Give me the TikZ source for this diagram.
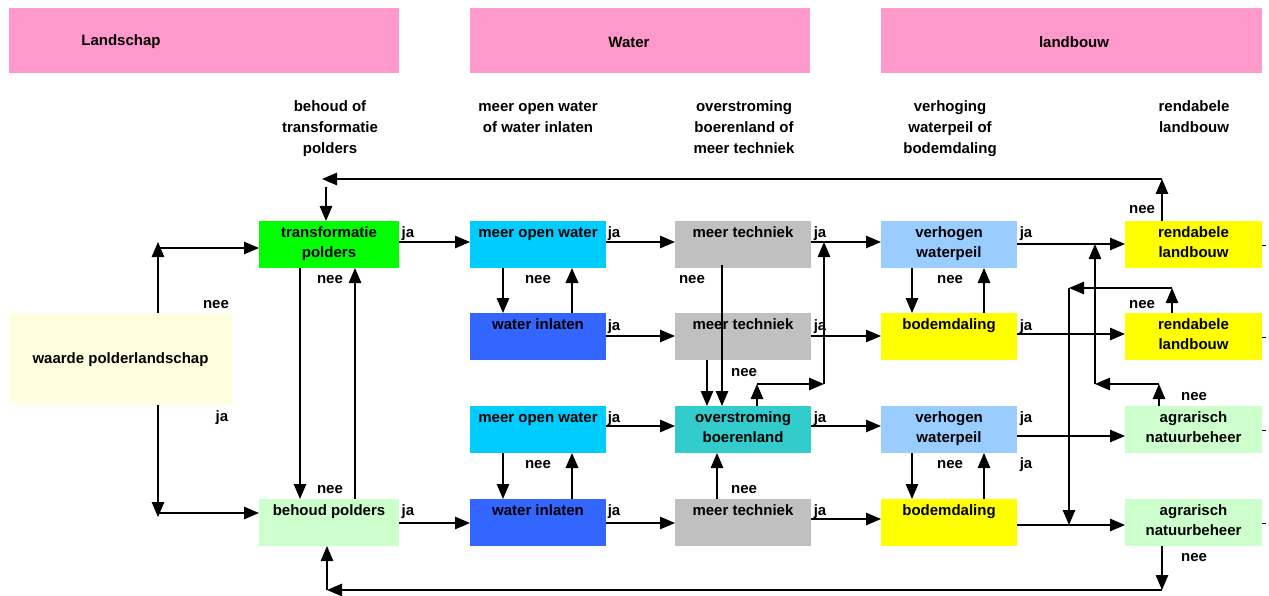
\documentclass[tikz,border=0pt]{standalone}
\usepackage{fontspec}
\setmainfont{Liberation Sans}
\usetikzlibrary{arrows.meta}
\definecolor{cpink}{HTML}{FF99CC}
\definecolor{cgreen}{HTML}{00FF00}
\definecolor{cpale}{HTML}{FFFFE0}
\definecolor{cmint}{HTML}{CCFFCC}
\definecolor{ccyan}{HTML}{00CCFF}
\definecolor{cblue}{HTML}{3366FF}
\definecolor{cgray}{HTML}{C0C0C0}
\definecolor{cteal}{HTML}{33CCCC}
\definecolor{csky}{HTML}{99CCFF}
\definecolor{cyel}{HTML}{FFFF00}
\begin{document}
\begin{tikzpicture}[x=1pt,y=-1pt,
 box/.style={anchor=north west,minimum width=136pt,minimum height=47pt,inner sep=0pt,outer sep=0pt},
 txt/.style={font=\bfseries\fontsize{15}{20}\selectfont,align=center,inner sep=0pt,anchor=north},
 hdr/.style={font=\bfseries\fontsize{15}{21}\selectfont,align=center,inner sep=0pt,anchor=north},
 lab/.style={font=\bfseries\fontsize{15}{18}\selectfont,inner sep=0pt,anchor=base},
 con/.style={line width=1.2pt},
 arr/.style={con,-{Triangle[length=15pt,width=12.5pt]}},
 arrb/.style={line width=2pt,-{Triangle[length=15pt,width=12.5pt]}},
 stub/.style={line width=0.6pt}
]
\useasboundingbox (0,0) rectangle (1269,596);

% header bands
\node[box,minimum width=390pt,minimum height=65pt,fill=cpink] (hL) at (9,8) {};
\node[box,minimum width=340pt,minimum height=65pt,fill=cpink] (hW) at (470,8) {};
\node[box,minimum width=381pt,minimum height=65pt,fill=cpink] (hB) at (881,8) {};
\node[txt,anchor=center] (hL-t) at (121,42) {Landschap};
\node[txt,anchor=center] (hW-t) at (629,42) {Water};
\node[txt,anchor=center] (hB-t) at (1074,42) {landbouw};

% column headers
\node[hdr] (c1) at (330,97) {\strut behoud of\\transformatie\\polders};
\node[hdr] (c2) at (538,97) {\strut meer open water\\of water inlaten};
\node[hdr] (c3) at (744,97) {\strut overstroming\\boerenland of\\meer techniek};
\node[hdr] (c4) at (950,97) {\strut verhoging\\waterpeil of\\bodemdaling};
\node[hdr] (c5) at (1194,97) {\strut rendabele\\landbouw};

% boxes
\node[box,minimum width=223pt,minimum height=92pt,fill=cpale] (wp) at (9,313) {};
\node[box,minimum width=140pt,fill=cgreen] (tp) at (259,221) {};
\node[box,minimum width=140pt,fill=cmint] (bp) at (259,499) {};
\node[box,fill=ccyan] (mow1) at (470,221) {};
\node[box,fill=cblue] (wi1) at (470,313) {};
\node[box,fill=ccyan] (mow2) at (470,406) {};
\node[box,fill=cblue] (wi2) at (470,499) {};
\node[box,fill=cgray] (mt1) at (675,221) {};
\node[box,fill=cgray] (mt2) at (675,313) {};
\node[box,fill=cteal] (ov) at (675,406) {};
\node[box,fill=cgray] (mt3) at (675,499) {};
\node[box,fill=csky] (vw1) at (881,221) {};
\node[box,fill=cyel] (bd1) at (881,313) {};
\node[box,fill=csky] (vw2) at (881,406) {};
\node[box,fill=cyel] (bd2) at (881,499) {};
\node[box,minimum width=137pt,fill=cyel] (rl1) at (1125,221) {};
\node[box,minimum width=137pt,fill=cyel] (rl2) at (1125,313) {};
\node[box,minimum width=137pt,fill=cmint] (an1) at (1125,406) {};
\node[box,minimum width=137pt,fill=cmint] (an2) at (1125,499) {};

% box texts
\node[txt,anchor=center] (wp-t) at ([yshift=-1pt]wp.center) {waarde polderlandschap};
\node[txt] (tp-t) at ([yshift=-2pt]tp.north) {\strut transformatie\\polders};
\node[txt] (bp-t) at ([yshift=-2pt]bp.north) {\strut behoud polders};
\node[txt] (mow1-t) at ([yshift=-2pt]mow1.north) {\strut meer open water};
\node[txt] (wi1-t) at ([yshift=-2pt]wi1.north) {\strut water inlaten};
\node[txt] (mow2-t) at ([yshift=-2pt]mow2.north) {\strut meer open water};
\node[txt] (wi2-t) at ([yshift=-2pt]wi2.north) {\strut water inlaten};
\node[txt] (mt1-t) at ([yshift=-2pt]mt1.north) {\strut meer techniek};
\node[txt] (mt2-t) at ([yshift=-2pt]mt2.north) {\strut meer techniek};
\node[txt] (ov-t) at ([yshift=-2pt]ov.north) {\strut overstroming\\boerenland};
\node[txt] (mt3-t) at ([yshift=-2pt]mt3.north) {\strut meer techniek};
\node[txt] (vw1-t) at ([yshift=-2pt]vw1.north) {\strut verhogen\\waterpeil};
\node[txt] (bd1-t) at ([yshift=-2pt]bd1.north) {\strut bodemdaling};
\node[txt] (vw2-t) at ([yshift=-2pt]vw2.north) {\strut verhogen\\waterpeil};
\node[txt] (bd2-t) at ([yshift=-2pt]bd2.north) {\strut bodemdaling};
\node[txt] (rl1-t) at ([yshift=-2pt]rl1.north) {\strut rendabele\\landbouw};
\node[txt] (rl2-t) at ([yshift=-2pt]rl2.north) {\strut rendabele\\landbouw};
\node[txt] (an1-t) at ([yshift=-2pt]an1.north) {\strut agrarisch\\natuurbeheer};
\node[txt] (an2-t) at ([yshift=-2pt]an2.north) {\strut agrarisch\\natuurbeheer};

% helper coordinates
\coordinate (r1) at (0,242);
\coordinate (r1b) at (0,244);
\coordinate (r2) at (0,336);
\coordinate (r2b) at (0,334);
\coordinate (r3) at (0,426);
\coordinate (r3b) at (0,436);
\coordinate (r4) at (0,523);
\coordinate (r4a) at (0,519);
\coordinate (r4b) at (0,525);

% waarde -> transformatie / behoud
\coordinate (k1) at (158,242);
\coordinate (k1h) at (158,248);
\draw[arr] (k1 |- wp.north) -- (k1);
\draw[arr] (k1h) -- (k1h -| tp.west);
\coordinate (k2) at (158,517);
\coordinate (k2h) at (158,513);
\draw[arr] (k2 |- wp.south) -- (k2);
\draw[arr] (k2h) -- (k2h -| bp.west);

% transformatie <-> behoud
\coordinate (x300) at (300,0);
\coordinate (x355) at (355,0);
\draw[arr] (x300 |- tp.south) -- (x300 |- bp.north);
\draw[arr] (x355 |- bp.north) -- (x355 |- tp.south);

% row 1
\draw[arr] (r1 -| tp.east) -- (r1 -| mow1.west);
\draw[arr] (r1 -| mow1.east) -- (r1 -| mt1.west);
\draw[arr] (r1 -| mt1.east) -- (r1 -| vw1.west);
\draw[arr] (r1b -| vw1.east) -- (r1b -| rl1.west);
% row 2
\draw[arr] (r2 -| wi1.east) -- (r2 -| mt2.west);
\draw[arr] (r2 -| mt2.east) -- (r2 -| bd1.west);
\draw[arr] (r2b -| bd1.east) -- (r2b -| rl2.west);
% row 3
\draw[arr] (r3 -| mow2.east) -- (r3 -| ov.west);
\draw[arr] (r3 -| ov.east) -- (r3 -| vw2.west);
\draw[arr] (r3b -| vw2.east) -- (r3b -| an1.west);
% row 4
\draw[arr] (r4 -| bp.east) -- (r4 -| wi2.west);
\draw[arr] (r4 -| wi2.east) -- (r4 -| mt3.west);
\draw[arr] (r4a -| mt3.east) -- (r4a -| bd2.west);
\draw[arr] (r4b -| bd2.east) -- (r4b -| an2.west);

% water column verticals
\coordinate (x503) at (503,0);
\coordinate (x572) at (572,0);
\draw[arr] (x503 |- mow1.south) -- (x503 |- wi1.north);
\draw[arrb] (x572 |- wi1.north) -- (x572 |- mow1.south);
\draw[arr] (x503 |- mow2.south) -- (x503 |- wi2.north);
\draw[arrb] (x572 |- wi2.north) -- (x572 |- mow2.south);

% verhogen <-> bodemdaling
\coordinate (x912) at (912,0);
\coordinate (x984) at (984,0);
\draw[arr] (x912 |- vw1.south) -- (x912 |- bd1.north);
\draw[arr] (x984 |- bd1.north) -- (x984 |- vw1.south);
\draw[arr] (x912 |- vw2.south) -- (x912 |- bd2.north);
\draw[arr] (x984 |- bd2.north) -- (x984 |- vw2.south);

% meer techniek -> overstroming
\coordinate (x722) at (722,0);
\coordinate (x707) at (707,0);
\coordinate (x717) at (717,0);
\draw[arr] ([yshift=3pt]x722 |- mt1.south) -- (x722 |- ov.north);
\draw[arr] (x707 |- mt2.south) -- (x707 |- ov.north);
\draw[arr] (x717 |- mt3.north) -- (x717 |- ov.south);

% overstroming nee -> back up
\coordinate (k3) at (757,384);
\coordinate (k4) at (824,384);
\draw[arr] (k3 |- ov.north) -- (k3);
\draw[arr] (k3) -- (k4);
\draw[arr] (k4) -- (k4 |- r1);

% rendabele landbouw 1 nee -> transformatie
\coordinate (k5) at (1162,179);
\coordinate (k6) at (322,179);
\coordinate (k7) at (326,187);
\draw[arr] (k5 |- rl1.north) -- (k5);
\draw[arr] (k5) -- (k6);
\draw[arr] (k7) -- (k7 |- tp.north);

% rendabele landbouw 2 nee
\coordinate (k8) at (1172,288);
\coordinate (k9) at (1069,288);
\draw[arr] (k8 |- rl2.north) -- (k8);
\draw[arr] (k8) -- (k9);
\draw[arr] (k9) -- (k9 |- r4b);

% agrarisch natuurbeheer 1 nee
\coordinate (k10) at (1159,384);
\coordinate (k11) at (1095,384);
\draw[arr] (k10 |- an1.north) -- (k10);
\draw[arr] (k10) -- (k11);
\draw[arr] (k11) -- (k11 |- r1b);

% agrarisch natuurbeheer 2 nee -> behoud
\coordinate (k12) at (1162,590);
\coordinate (k13) at (327,590);
\draw[arr] (k12 |- an2.south) -- (k12);
\draw[arr] (k12) -- (k13);
\draw[arr] (k13) -- (k13 |- bp.south);

% small stubs at right edge
\draw[stub] ([yshift=-1pt]rl1.east) -- ++(4,0);
\draw[stub] ([yshift=-1pt]rl2.east) -- ++(4,0);
\draw[stub] ([yshift=-1pt]an1.east) -- ++(4,0);
\draw[stub] ([yshift=-1pt]an2.east) -- ++(4,0);

% labels
\node[lab] (l1) at (216,308) {nee};
\node[lab] (l2) at (222,421) {ja};
\node[lab] (l3) at (330,283) {nee};
\node[lab] (l4) at (330,493) {nee};
\node[lab] (l5) at (408,237) {ja};
\node[lab] (l6) at (408,515) {ja};
\node[lab] (l7) at (614,237) {ja};
\node[lab] (l8) at (614,330) {ja};
\node[lab] (l9) at (614,422) {ja};
\node[lab] (l10) at (614,515) {ja};
\node[lab] (l11) at (820,237) {ja};
\node[lab] (l12) at (820,330) {ja};
\node[lab] (l13) at (820,422) {ja};
\node[lab] (l14) at (820,515) {ja};
\node[lab] (l15) at (1026,237) {ja};
\node[lab] (l16) at (1026,330) {ja};
\node[lab] (l17) at (1026,422) {ja};
\node[lab] (l18) at (1026,468) {ja};
\node[lab] (l19) at (538,283) {nee};
\node[lab] (l20) at (538,468) {nee};
\node[lab] (l21) at (692,283) {nee};
\node[lab] (l22) at (744,376) {nee};
\node[lab] (l23) at (744,493) {nee};
\node[lab] (l24) at (950,283) {nee};
\node[lab] (l25) at (950,468) {nee};
\node[lab] (l26) at (1142,214) {nee};
\node[lab] (l27) at (1142,308) {nee};
\node[lab] (l28) at (1194,400) {nee};
\node[lab] (l29) at (1194,561) {nee};
\end{tikzpicture}
\end{document}
